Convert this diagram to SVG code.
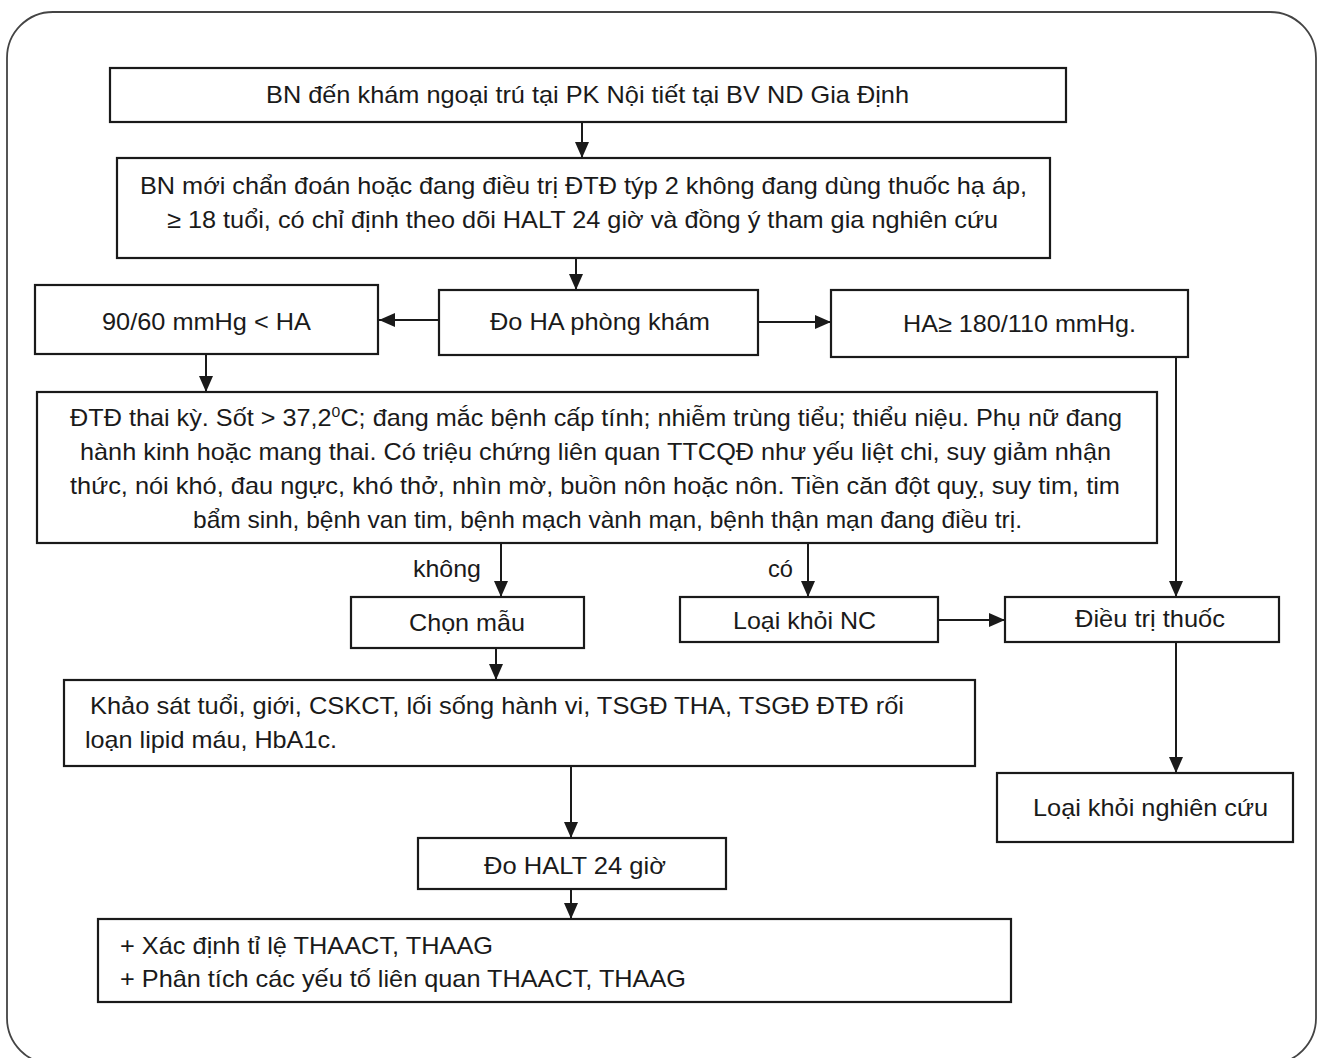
<svg xmlns="http://www.w3.org/2000/svg" width="1317" height="1058" viewBox="0 0 1317 1058">
<defs>
<marker id="ah" viewBox="0 0 16 14" refX="16" refY="7" markerWidth="16" markerHeight="14" markerUnits="userSpaceOnUse" orient="auto">
<path d="M0,0 L16,7 L0,14 Z" fill="#1a1a1a"/>
</marker>
<style>
.box{fill:#fff;stroke:#1a1a1a;stroke-width:2.2}
.t{font-family:"Liberation Sans",Arial,sans-serif;font-size:24px;fill:#1a1a1a}
.ln{stroke:#1a1a1a;stroke-width:2;fill:none}
.ar{stroke:#1a1a1a;stroke-width:2;fill:none;marker-end:url(#ah)}
</style>
</defs>
<rect width="1317" height="1058" fill="#fff"/>
<rect x="7" y="12" width="1309" height="1052" rx="46" ry="46" fill="none" stroke="#444" stroke-width="1.8"/>

<g id="connectors">
<line class="ar" x1="582" y1="122" x2="582" y2="158"/>
<line class="ar" x1="576" y1="258" x2="576" y2="290"/>
<line class="ar" x1="439" y1="320" x2="379" y2="320"/>
<line class="ar" x1="758" y1="322" x2="831" y2="322"/>
<line class="ar" x1="1176" y1="357" x2="1176" y2="597"/>
<line class="ar" x1="206" y1="354" x2="206" y2="392"/>
<line class="ar" x1="501" y1="543" x2="501" y2="597"/>
<line class="ar" x1="808" y1="543" x2="808" y2="597"/>
<line class="ar" x1="938" y1="620" x2="1005" y2="620"/>
<line class="ar" x1="496" y1="648" x2="496" y2="680"/>
<line class="ar" x1="571" y1="766" x2="571" y2="838"/>
<line class="ar" x1="571" y1="889" x2="571" y2="919"/>
<line class="ar" x1="1176" y1="642" x2="1176" y2="773"/>
<text class="t" x="413" y="577" textLength="68" lengthAdjust="spacingAndGlyphs">không</text>
<text class="t" x="768" y="577" textLength="25" lengthAdjust="spacingAndGlyphs">có</text>
</g>

<g id="n1">
<rect class="box" x="110" y="68" width="956" height="54"/>
<text class="t" x="266" y="103" textLength="643" lengthAdjust="spacingAndGlyphs">BN đến khám ngoại trú tại PK Nội tiết tại BV ND Gia Định</text>
</g>
<g id="n2">
<rect class="box" x="117" y="158" width="933" height="100"/>
<text class="t" x="140" y="194" textLength="887" lengthAdjust="spacingAndGlyphs">BN mới chẩn đoán hoặc đang điều trị ĐTĐ týp 2 không đang dùng thuốc hạ áp,</text>
<text class="t" x="167" y="228" textLength="831" lengthAdjust="spacingAndGlyphs">≥ 18 tuổi, có chỉ định theo dõi HALT 24 giờ và đồng ý tham gia nghiên cứu</text>
</g>
<g id="n3">
<rect class="box" x="439" y="290" width="319" height="65"/>
<text class="t" x="490" y="330" textLength="220" lengthAdjust="spacingAndGlyphs">Đo HA phòng khám</text>
</g>
<g id="n4">
<rect class="box" x="35" y="285" width="343" height="69"/>
<text class="t" x="102" y="330" textLength="209" lengthAdjust="spacingAndGlyphs">90/60 mmHg &lt; HA</text>
</g>
<g id="n5">
<rect class="box" x="831" y="290" width="357" height="67"/>
<text class="t" x="903" y="332" textLength="233" lengthAdjust="spacingAndGlyphs">HA≥ 180/110 mmHg.</text>
</g>
<g id="n6">
<rect class="box" x="37" y="392" width="1120" height="151"/>
<text class="t" x="70" y="426" textLength="1052" lengthAdjust="spacingAndGlyphs">ĐTĐ thai kỳ. Sốt &gt; 37,2<tspan font-size="15" dy="-9">0</tspan><tspan dy="9">C; đang mắc bệnh cấp tính; nhiễm trùng tiểu; thiểu niệu. Phụ nữ đang</tspan></text>
<text class="t" x="80" y="460" textLength="1031" lengthAdjust="spacingAndGlyphs">hành kinh hoặc mang thai. Có triệu chứng liên quan TTCQĐ như yếu liệt chi, suy giảm nhận</text>
<text class="t" x="70" y="494" textLength="1050" lengthAdjust="spacingAndGlyphs">thức, nói khó, đau ngực, khó thở, nhìn mờ, buồn nôn hoặc nôn. Tiền căn đột quỵ, suy tim, tim</text>
<text class="t" x="193" y="528" textLength="829" lengthAdjust="spacingAndGlyphs">bẩm sinh, bệnh van tim, bệnh mạch vành mạn, bệnh thận mạn đang điều trị.</text>
</g>
<g id="n7">
<rect class="box" x="351" y="597" width="233" height="51"/>
<text class="t" x="409" y="631" textLength="116" lengthAdjust="spacingAndGlyphs">Chọn mẫu</text>
</g>
<g id="n8">
<rect class="box" x="680" y="597" width="258" height="45"/>
<text class="t" x="733" y="629" textLength="143" lengthAdjust="spacingAndGlyphs">Loại khỏi NC</text>
</g>
<g id="n9">
<rect class="box" x="1005" y="597" width="274" height="45"/>
<text class="t" x="1075" y="627" textLength="150" lengthAdjust="spacingAndGlyphs">Điều trị thuốc</text>
</g>
<g id="n10">
<rect class="box" x="64" y="680" width="911" height="86"/>
<text class="t" x="90" y="714" textLength="814" lengthAdjust="spacingAndGlyphs">Khảo sát tuổi, giới, CSKCT, lối sống hành vi, TSGĐ THA, TSGĐ ĐTĐ rối</text>
<text class="t" x="85" y="748" textLength="252" lengthAdjust="spacingAndGlyphs">loạn lipid máu, HbA1c.</text>
</g>
<g id="n11">
<rect class="box" x="418" y="838" width="308" height="51"/>
<text class="t" x="484" y="874" textLength="182" lengthAdjust="spacingAndGlyphs">Đo HALT 24 giờ</text>
</g>
<g id="n12">
<rect class="box" x="98" y="919" width="913" height="83"/>
<text class="t" x="120" y="954" textLength="373" lengthAdjust="spacingAndGlyphs">+ Xác định tỉ lệ THAACT, THAAG</text>
<text class="t" x="120" y="987" textLength="566" lengthAdjust="spacingAndGlyphs">+ Phân tích các yếu tố liên quan THAACT, THAAG</text>
</g>
<g id="n13">
<rect class="box" x="997" y="773" width="296" height="69"/>
<text class="t" x="1033" y="816" textLength="235" lengthAdjust="spacingAndGlyphs">Loại khỏi nghiên cứu</text>
</g>
</svg>
